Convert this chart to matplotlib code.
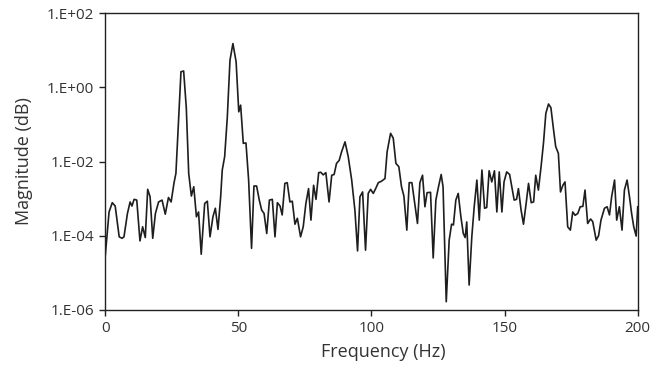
import numpy as np
import matplotlib
matplotlib.use("Agg")
import matplotlib.pyplot as plt
from matplotlib.ticker import FixedLocator, NullLocator

# Frequency (Hz) of each sample
frequency_hz = [
    0.0, 1.5, 2.7, 3.8, 5.3, 6.4, 7.1, 8.4, 9.4, 10.1, 10.9, 11.9, 13.1, 14.1, 15.1,
    16.0, 16.9, 17.9, 18.9, 20.1, 21.4, 22.6, 23.8, 24.8, 25.9, 26.6, 28.5, 29.5,
    30.5, 31.4, 32.4, 33.3, 34.3, 35.1, 36.1, 37.4, 38.4, 39.4, 40.5, 41.4, 42.4,
    43.4, 44.0, 44.9, 45.9, 46.9, 48.0, 49.2, 50.2, 50.9, 51.9, 52.9, 53.9, 55.0,
    55.9, 56.9, 57.9, 58.8, 59.7, 60.7, 61.7, 62.8, 63.8, 64.7, 65.7, 66.5, 67.5,
    68.4, 69.4, 70.3, 71.3, 72.2, 73.4, 74.4, 75.4, 76.4, 77.3, 78.3, 79.2, 80.2,
    81.0, 81.9, 82.9, 84.1, 85.1, 86.0, 86.9, 87.9, 88.8, 90.1, 91.3, 92.6, 93.8,
    94.8, 95.7, 96.7, 97.8, 98.8, 99.7, 100.7, 101.6, 102.6, 103.8, 105.1, 105.9,
    107.2, 108.2, 109.2, 110.3, 111.3, 112.2, 113.3, 114.2, 115.2, 116.1, 117.3,
    118.2, 119.2, 120.1, 120.9, 122.2, 123.2, 124.2, 125.2, 126.2, 126.9, 128.1,
    129.2, 130.1, 130.8, 131.7, 132.6, 133.6, 134.5, 135.2, 135.8, 136.7, 137.7,
    138.6, 139.6, 140.5, 141.5, 142.5, 143.3, 144.2, 145.2, 146.2, 147.1, 148.0,
    149.0, 149.8, 150.8, 151.9, 152.7, 153.6, 154.5, 155.2, 156.2, 157.1, 158.1,
    159.0, 160.0, 160.9, 161.7, 162.7, 163.7, 164.6, 165.5, 166.5, 167.4, 168.4,
    169.2, 170.2, 171.0, 171.9, 172.7, 173.7, 174.7, 175.6, 176.5, 177.5, 178.4,
    179.4, 180.2, 181.2, 182.3, 183.1, 184.4, 185.3, 186.2, 187.5, 188.5, 189.4,
    190.2, 191.3, 192.1, 193.1, 194.1, 195.0, 196.0, 196.9, 197.7, 198.5, 199.4,
    200.0,
]

# Magnitude read as decimal exponent (log10 of the value)
magnitude_log10 = [
    -4.60, -3.36, -3.11, -3.20, -4.03, -4.07, -4.03, -3.40, -3.09, -3.20, -3.02, -3.04, -4.14, -3.76, -4.05,
    -2.75, -2.95, -4.07, -3.40, -3.09, -3.04, -3.42, -2.97, -3.09, -2.57, -2.32, 0.42, 0.44,
    -0.55, -2.32, -2.93, -2.68, -3.49, -3.36, -4.50, -3.13, -3.07, -4.03, -3.49, -3.26, -3.83,
    -2.95, -2.23, -1.87, -0.80, 0.73, 1.18, 0.69, -0.66, -0.48, -1.51, -1.50, -2.50, -4.34,
    -2.66, -2.66, -3.04, -3.31, -3.40, -3.94, -3.04, -3.02, -4.03, -3.11, -3.20, -3.44, -2.59,
    -2.57, -3.09, -3.07, -3.69, -3.53, -4.03, -3.76, -3.13, -2.73, -3.58, -2.64, -3.02, -2.30,
    -2.29, -2.36, -2.30, -3.09, -2.37, -2.35, -2.05, -1.97, -1.74, -1.47, -1.87, -2.50, -3.31,
    -4.41, -2.95, -2.82, -4.39, -2.86, -2.75, -2.86, -2.73, -2.57, -2.53, -2.46, -1.74,
    -1.24, -1.37, -2.05, -2.14, -2.68, -2.93, -3.85, -2.57, -2.57, -3.04, -3.67,
    -2.57, -2.37, -3.22, -2.84, -2.83, -4.60, -3.04, -2.68, -2.35, -2.68, -5.78,
    -4.12, -3.69, -3.71, -3.04, -2.86, -3.49, -3.94, -4.05, -3.63, -5.33, -4.03,
    -3.22, -2.50, -3.58, -2.23, -3.26, -3.24, -2.25, -2.55, -2.25, -3.36, -2.28,
    -3.36, -2.55, -2.28, -2.35, -2.68, -3.04, -3.02, -2.73, -3.31, -3.69, -3.13,
    -2.59, -3.11, -3.09, -2.37, -2.77, -2.14, -1.51, -0.70, -0.45, -0.55, -1.15,
    -1.60, -1.78, -2.82, -2.64, -2.55, -3.76, -3.85, -3.36, -3.45, -3.40, -3.22,
    -3.21, -2.77, -3.67, -3.55, -3.62, -4.12, -4.00, -3.58, -3.26, -3.22, -3.44,
    -2.95, -2.50, -3.58, -3.22, -3.85, -2.77, -2.50, -2.95, -3.40, -3.76, -4.01,
    -3.22,
]

x_ticks = [0, 50, 100, 150, 200]
y_ticks = [1e-6, 1e-4, 1e-2, 1e0, 1e2]
y_tick_labels = ["1.E-06", "1.E-04", "1.E-02", "1.E+00", "1.E+02"]

plt.rcParams['font.family'] = ['Open Sans', 'DejaVu Sans']

fig = plt.figure(figsize=(6.65, 3.65), dpi=100)
ax = fig.add_axes([0.158, 0.151, 0.801, 0.813])

magnitude = np.power(10.0, np.array(magnitude_log10))
ax.plot(frequency_hz, magnitude, color="#1e1e1e", linewidth=1.2)

ax.set_yscale("log")
ax.set_xlim(0, 200)
ax.set_ylim(1e-6, 1e2)
ax.xaxis.set_major_locator(FixedLocator(x_ticks))
ax.yaxis.set_major_locator(FixedLocator(y_ticks))
ax.yaxis.set_minor_locator(NullLocator())
ax.set_yticklabels(y_tick_labels)

text_color = "#333333"
ax.tick_params(axis="both", which="major", direction="out", length=4, width=1,
               color="#222222", labelsize=11, labelcolor=text_color, pad=4)
for s in ax.spines.values():
    s.set_color("#222222")
    s.set_linewidth(1.0)

ax.set_xlabel("Frequency (Hz)", fontsize=13, color=text_color, labelpad=5, x=0.522)
ax.set_ylabel("Magnitude (dB)", fontsize=13, color=text_color, labelpad=10)

fig.savefig("out.png", dpi=100)
